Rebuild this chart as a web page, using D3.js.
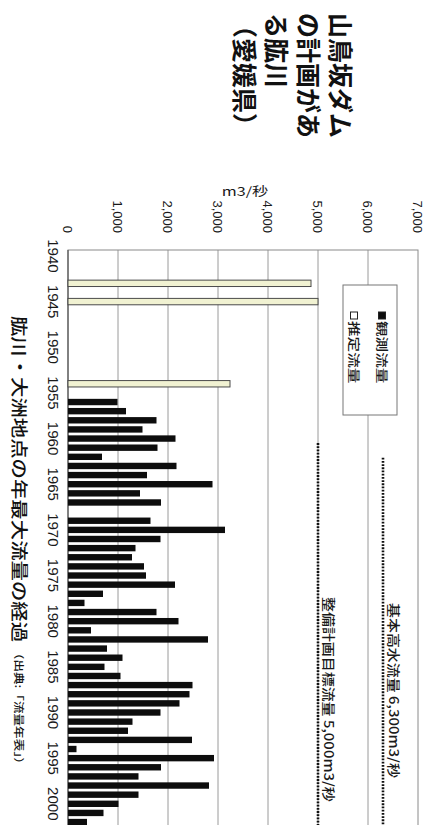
<!DOCTYPE html>
<html>
<head>
<meta charset="utf-8">
<script src="https://cdn.jsdelivr.net/npm/d3@7"></script>
<style>
  html, body { margin: 0; padding: 0; background: #fff; overflow: hidden; }
  svg { display: block; }
</style>
</head>
<body>
<svg id="chart" width="434" height="825"></svg>
<script>
// ---- data -------------------------------------------------------------
const yearCategories = [
  1940, 1941, 1942, 1943, 1944, 1945, 1946, 1947, 1948, 1949,
  1950, 1951, 1952, 1953, 1954, 1955, 1956, 1957, 1958, 1959,
  1960, 1961, 1962, 1963, 1964, 1965, 1966, 1967, 1968, 1969,
  1970, 1971, 1972, 1973, 1974, 1975, 1976, 1977, 1978, 1979,
  1980, 1981, 1982, 1983, 1984, 1985, 1986, 1987, 1988, 1989,
  1990, 1991, 1992, 1993, 1994, 1995, 1996, 1997, 1998, 1999,
  2000, 2001, 2002
];

// 観測流量 (m3/秒), 1968 has no record
const observedYears = [
  1956, 1957, 1958, 1959, 1960, 1961, 1962, 1963, 1964, 1965,
  1966, 1967, 1968, 1969, 1970, 1971, 1972, 1973, 1974, 1975,
  1976, 1977, 1978, 1979, 1980, 1981, 1982, 1983, 1984, 1985,
  1986, 1987, 1988, 1989, 1990, 1991, 1992, 1993, 1994, 1995,
  1996, 1997, 1998, 1999, 2000, 2001, 2002
];
const observedFlow = [
  990, 1160, 1770, 1490, 2150, 1790, 680, 2170, 1580, 2890,
  1440, 1860, null, 1650, 3140, 1850, 1350, 1280, 1520, 1560,
  2140, 700, 330, 1770, 2210, 460, 2800, 780, 1090, 730,
  1050, 2490, 2430, 2230, 1850, 1290, 1200, 2480, 170, 2920,
  1860, 1410, 2820, 1410, 1010, 710, 380
];

// 推定流量 (m3/秒)
const estimatedYears = [1943, 1945, 1954];
const estimatedFlow = [4860, 5000, 3240];

// planning flows drawn as dotted lines
const refValues = [5000, 6300];
const refFromYears = [1960.5, 1962.1];
const refLabels = ["整備計画目標流量 5,000m3/秒", "基本高水流量 6,300m3/秒"];

const valueTicks = [0, 1000, 2000, 3000, 4000, 5000, 6000, 7000];
const yearTicks = [1940, 1945, 1950, 1955, 1960, 1965, 1970, 1975, 1980, 1985, 1990, 1995, 2000];

const titleLines = ["山鳥坂ダム", "の計画があ", "る肱川", "（愛媛県）"];
const axisTitle = "肱川・大洲地点の年最大流量の経過";
const sourceNote = "（出典:「流量年表」）";
const unitLabel = "m3/秒";
const legendLabels = ["観測流量", "推定流量"];

// ---- layout -----------------------------------------------------------
// The chart is laid out in a landscape frame (825 x 434) and turned a
// quarter turn clockwise onto the portrait page.
const JP = "'Noto Sans CJK JP', 'Noto Sans', sans-serif";
const NUM = "'Liberation Sans', Arial, sans-serif";

const svg = d3.select("#chart");
svg.append("rect").attr("width", 434).attr("height", 825).attr("fill", "#fff");

const g = svg.append("g").attr("transform", "translate(434,0) rotate(90)");

const plot = { left: 250, right: 828, top: 16, bottom: 366 };

const x = d3.scaleBand()
  .domain(yearCategories)
  .range([plot.left, plot.right])
  .padding(0.3);

const y = d3.scaleLinear()
  .domain([0, 7000])
  .range([plot.bottom, plot.top]);

const yearPos = yr => {
  const base = Math.floor(yr);
  return x(base) + x.bandwidth() / 2 + (yr - base) * x.step();
};

// gridlines
g.append("g")
  .selectAll("line")
  .data(valueTicks.filter(t => t > 0 && t < 7000))
  .join("line")
  .attr("x1", plot.left).attr("x2", plot.right)
  .attr("y1", d => y(d)).attr("y2", d => y(d))
  .attr("stroke", "#9a9a9a").attr("stroke-width", 1);

// plot frame
g.append("rect")
  .attr("x", plot.left).attr("y", plot.top)
  .attr("width", plot.right - plot.left).attr("height", plot.bottom - plot.top)
  .attr("fill", "none").attr("stroke", "#8a8a8a").attr("stroke-width", 1);

// value axis labels
const yAxis = d3.axisLeft(y).tickValues(valueTicks).tickSize(0).tickPadding(17)
  .tickFormat(d3.format(","));
const yAxisG = g.append("g").attr("transform", `translate(${plot.left},0)`).call(yAxis);
yAxisG.select(".domain").remove();
yAxisG.selectAll("text")
  .attr("font-family", NUM).attr("font-size", 13).attr("fill", "#1a1a1a");

// year axis labels
const xAxis = d3.axisBottom(x).tickValues(yearTicks).tickSize(0).tickPadding(9);
const xAxisG = g.append("g").attr("transform", `translate(0,${plot.bottom})`).call(xAxis);
xAxisG.select(".domain").remove();
xAxisG.selectAll("text")
  .attr("font-family", NUM).attr("font-size", 15).attr("fill", "#1a1a1a");

// zero axis line
g.append("line")
  .attr("x1", plot.left).attr("x2", plot.right)
  .attr("y1", y(0)).attr("y2", y(0))
  .attr("stroke", "#555").attr("stroke-width", 1.2);

// estimated bars
const estimated = estimatedYears.map((yr, i) => ({ year: yr, value: estimatedFlow[i] }));
g.append("g")
  .selectAll("rect")
  .data(estimated)
  .join("rect")
  .attr("x", d => x(d.year))
  .attr("width", x.bandwidth())
  .attr("y", d => y(d.value))
  .attr("height", d => y(0) - y(d.value))
  .attr("fill", "#f1f2d2")
  .attr("stroke", "#4a4a4a").attr("stroke-width", 1);

// observed bars
const observed = observedYears
  .map((yr, i) => ({ year: yr, value: observedFlow[i] }))
  .filter(d => d.value != null);
g.append("g")
  .selectAll("rect")
  .data(observed)
  .join("rect")
  .attr("x", d => x(d.year))
  .attr("width", x.bandwidth())
  .attr("y", d => y(d.value))
  .attr("height", d => y(0) - y(d.value))
  .attr("fill", "#0d0d0d");

// planning flow lines
refValues.forEach((v, i) => {
  g.append("line")
    .attr("x1", yearPos(refFromYears[i])).attr("x2", plot.right)
    .attr("y1", y(v)).attr("y2", y(v))
    .attr("stroke", "#111").attr("stroke-width", 2.6)
    .attr("stroke-dasharray", "1.8,1.4");
});

// planning flow labels
const refLabelStart = [597, 603];
refValues.forEach((v, i) => {
  g.append("text")
    .attr("transform", `translate(${refLabelStart[i]},${y(v) - 12}) scale(1.15,1)`)
    .attr("dominant-baseline", "central")
    .attr("font-family", JP).attr("font-size", 13).attr("font-weight", 500)
    .attr("fill", "#1a1a1a")
    .text(refLabels[i]);
});

// legend
const legend = g.append("g").attr("transform", "translate(285,37)");
legend.append("rect")
  .attr("width", 130).attr("height", 54)
  .attr("fill", "#fff").attr("stroke", "#777").attr("stroke-width", 1);
const legendRows = [
  { label: legendLabels[0], fill: "#0d0d0d", dy: 15 },
  { label: legendLabels[1], fill: "#fff", dy: 43 }
];
legendRows.forEach(r => {
  legend.append("rect")
    .attr("x", 27).attr("y", r.dy - 3.5).attr("width", 7).attr("height", 7)
    .attr("fill", r.fill).attr("stroke", "#222").attr("stroke-width", 1);
  legend.append("text")
    .attr("transform", `translate(36,${r.dy}) scale(1.3,1)`)
    .attr("dominant-baseline", "central")
    .attr("font-family", JP).attr("font-size", 12).attr("font-weight", 500)
    .attr("fill", "#1a1a1a")
    .text(r.label);
});

// unit label, set sideways along the value axis
g.append("text")
  .attr("transform", "translate(191,189) rotate(-90) scale(1.35,1)")
  .attr("text-anchor", "middle").attr("dominant-baseline", "central")
  .attr("font-family", JP).attr("font-size", 12).attr("fill", "#1a1a1a")
  .text(unitLabel);

// year axis title with source note
const axisTitleG = g.append("text")
  .attr("transform", "translate(543,421) scale(1.2,1)")
  .attr("text-anchor", "middle")
  .attr("font-family", JP).attr("fill", "#111");
axisTitleG.append("tspan")
  .attr("font-size", 17).attr("font-weight", 500)
  .text(axisTitle);
axisTitleG.append("tspan")
  .attr("dx", 4).attr("dy", -2)
  .attr("font-size", 10.5).attr("font-weight", 500)
  .text(sourceNote);

// chart title
g.append("g")
  .selectAll("text")
  .data(titleLines)
  .join("text")
  .attr("x", 13)
  .attr("y", (d, i) => 92 + i * 32)
  .attr("dominant-baseline", "central")
  .attr("font-family", JP).attr("font-size", 25).attr("font-weight", 700)
  .attr("fill", "#111")
  .text(d => d);
</script>
</body>
</html>
